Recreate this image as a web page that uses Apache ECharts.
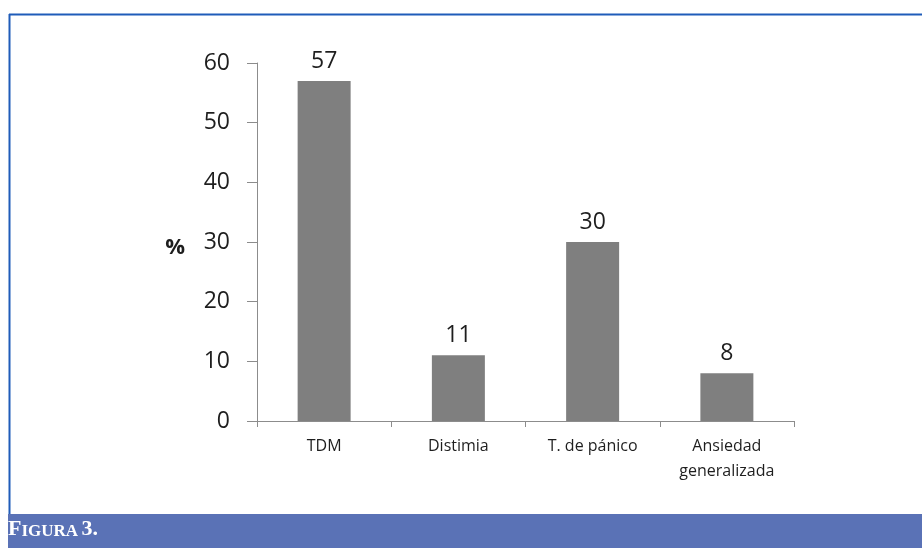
<!DOCTYPE html>
<html>
<head>
<meta charset="utf-8">
<script src="https://cdn.jsdelivr.net/npm/echarts@6/dist/echarts.min.js"></script>
<style>
  html, body { margin: 0; padding: 0; background: #ffffff; }
  #chart { width: 922px; height: 548px; }
</style>
</head>
<body>
<div id="chart"></div>
<script>
// Diagnoses and their share (%)
const categories = ['TDM', 'Distimia', 'T. de pánico', 'Ansiedad\ngeneralizada'];
const values = [57, 11, 30, 8];
const yTicks = { min: 0, max: 60, interval: 10 };

const chart = echarts.init(document.getElementById('chart'), null, { renderer: 'canvas' });

const axisGray = '#8c8c8c';
const frameBlue = '#1f5cb9';
const bandBlue = '#5a72b6';
const textColor = '#1e1e1e';

chart.setOption({
  backgroundColor: '#ffffff',
  animation: false,
  grid: { left: 257, right: 128, top: 63, bottom: 127, containLabel: false },
  xAxis: {
    type: 'category',
    data: categories,
    axisLine: { lineStyle: { color: axisGray, width: 1 } },
    axisTick: { show: true, length: 6, lineStyle: { color: axisGray } },
    axisLabel: {
      color: textColor,
      fontFamily: 'Open Sans',
      fontSize: 16,
      margin: 13,
      lineHeight: 25,
      interval: 0
    }
  },
  yAxis: {
    type: 'value',
    min: yTicks.min,
    max: yTicks.max,
    interval: yTicks.interval,
    name: '%',
    nameLocation: 'middle',
    nameRotate: 0,
    nameGap: 72,
    nameTextStyle: { color: textColor, fontFamily: 'Open Sans', fontSize: 22, fontWeight: 'bold', verticalAlign: 'top', lineHeight: 12 },
    splitLine: { show: false },
    axisLine: { show: true, lineStyle: { color: axisGray, width: 1 } },
    axisTick: { show: true, length: 10, lineStyle: { color: axisGray } },
    axisLabel: { color: textColor, fontFamily: 'Open Sans', fontSize: 23, margin: 27 }
  },
  series: [{
    type: 'bar',
    data: values,
    barWidth: 53,
    itemStyle: { color: '#7f7f7f' },
    label: {
      show: true,
      position: 'top',
      distance: 8,
      color: textColor,
      fontFamily: 'Open Sans',
      fontSize: 23
    }
  }],
  graphic: [
    // blue frame around the figure
    { type: 'line', shape: { x1: 9, y1: 14.5, x2: 922, y2: 14.5 }, style: { stroke: frameBlue, lineWidth: 2 }, silent: true },
    { type: 'line', shape: { x1: 9.5, y1: 14, x2: 9.5, y2: 514 }, style: { stroke: frameBlue, lineWidth: 2 }, silent: true },
    // caption band
    { type: 'rect', shape: { x: 8, y: 514, width: 914, height: 34 }, style: { fill: bandBlue }, silent: true },
    {
      type: 'text',
      left: 8,
      top: 518,
      silent: true,
      style: {
        text: '{a|F}{b|IGURA} {a|3.}',
        rich: {
          a: { fill: '#ffffff', fontFamily: 'Liberation Serif', fontSize: 22, fontWeight: 'bold', verticalAlign: 'bottom' },
          b: { fill: '#ffffff', fontFamily: 'Liberation Serif', fontSize: 17, fontWeight: 'bold', verticalAlign: 'bottom' }
        }
      }
    }
  ]
});
</script>
</body>
</html>
